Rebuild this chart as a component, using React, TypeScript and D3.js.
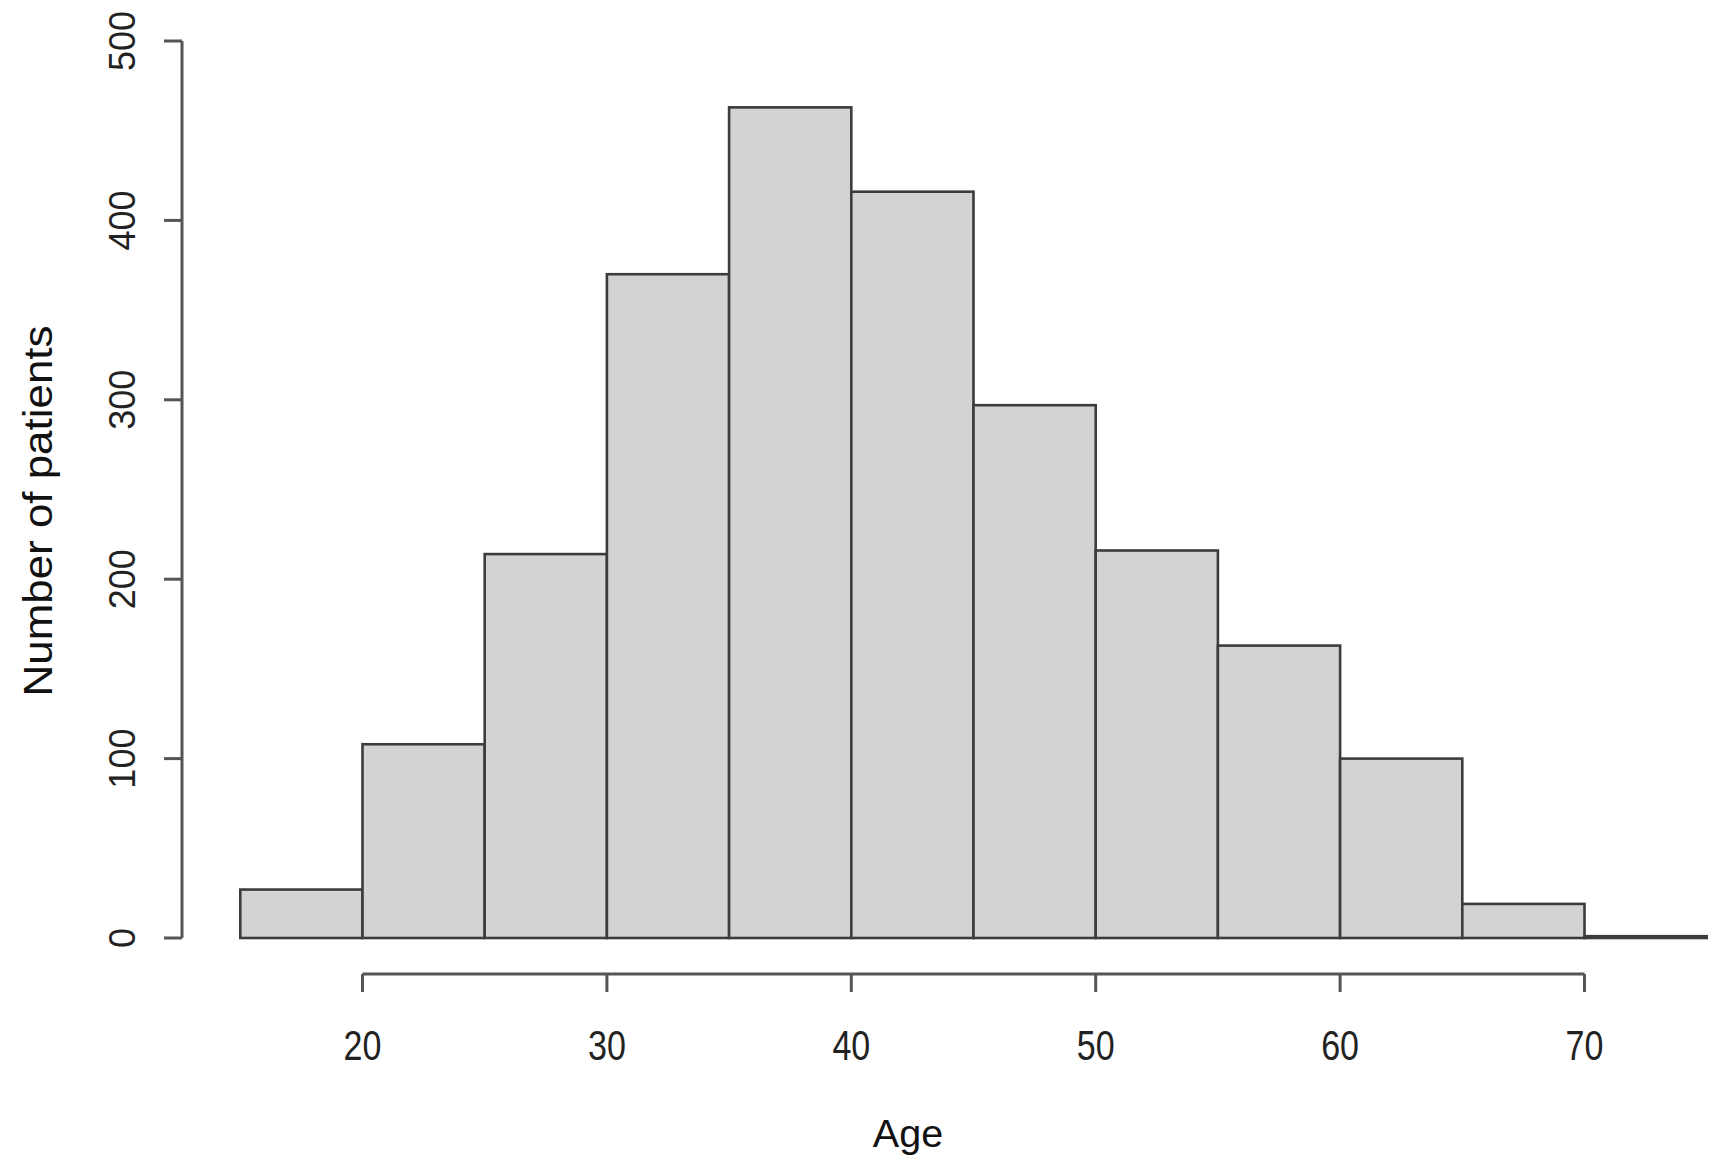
import React from "react";
import * as d3 from "d3";

const binStarts: number[] = [15, 20, 25, 30, 35, 40, 45, 50, 55, 60, 65, 70];
const binWidth = 5;
const counts: number[] = [27, 108, 214, 370, 463, 416, 297, 216, 163, 100, 19, 1];
const xTicks: number[] = [20, 30, 40, 50, 60, 70];
const yTicks: number[] = [0, 100, 200, 300, 400, 500];
const xTitle = "Age";
const yTitle = "Number of patients";

const W = 1717;
const H = 1168;

export default function App() {
  const x = d3.scaleLinear().domain([15, 75]).range([240.3, 1706.7]);
  const y = d3.scaleLinear().domain([0, 500]).range([938, 41]);
  const axisY = 182;
  const xAxisY = 974;
  const tickLen = 18;
  const axisColor = "#555";

  return (
    <svg
      width={W}
      height={H}
      style={{ position: "absolute", left: 0, top: 0, background: "#fff" }}
    >
      {/* bars */}
      <g>
        {binStarts.map((s, i) => (
          <rect
            key={s}
            x={x(s)}
            y={y(counts[i])}
            width={x(s + binWidth) - x(s)}
            height={y(0) - y(counts[i])}
            fill="#d3d3d3"
            stroke="#3c3c3c"
            strokeWidth={2.6}
          />
        ))}
      </g>

      {/* y axis */}
      <g>
        <line
          x1={axisY}
          x2={axisY}
          y1={y(yTicks[0])}
          y2={y(yTicks[yTicks.length - 1])}
          stroke={axisColor}
          strokeWidth={3}
        />
        {yTicks.map((t) => (
          <g key={t}>
            <line
              x1={axisY - tickLen}
              x2={axisY}
              y1={y(t)}
              y2={y(t)}
              stroke={axisColor}
              strokeWidth={3}
            />
            <text
              transform={`translate(135,${y(t)}) rotate(-90)`}
              textAnchor="middle"
              fontFamily="Liberation Sans, Arial, sans-serif"
              fontSize={36}
              fill="#222"
            >
              {t}
            </text>
          </g>
        ))}
      </g>

      {/* x axis */}
      <g>
        <line
          x1={x(xTicks[0])}
          x2={x(xTicks[xTicks.length - 1])}
          y1={xAxisY}
          y2={xAxisY}
          stroke={axisColor}
          strokeWidth={3}
        />
        {xTicks.map((t) => (
          <g key={t}>
            <line
              x1={x(t)}
              x2={x(t)}
              y1={xAxisY}
              y2={xAxisY + tickLen}
              stroke={axisColor}
              strokeWidth={3}
            />
            <text
              transform={`translate(${x(t)},1060) scale(0.81,1)`}
              textAnchor="middle"
              fontFamily="Liberation Sans, Arial, sans-serif"
              fontSize={42}
              fill="#222"
            >
              {t}
            </text>
          </g>
        ))}
      </g>

      {/* titles */}
      <text
        x={908}
        y={1147}
        textAnchor="middle"
        fontFamily="Liberation Sans, Arial, sans-serif"
        fontSize={39.5}
        fill="#111"
      >
        {xTitle}
      </text>
      <text
        transform={`translate(52,511) rotate(-90)`}
        textAnchor="middle"
        fontFamily="Liberation Sans, Arial, sans-serif"
        fontSize={40}
        textLength={371}
        lengthAdjust="spacingAndGlyphs"
        fill="#111"
      >
        {yTitle}
      </text>
    </svg>
  );
}
